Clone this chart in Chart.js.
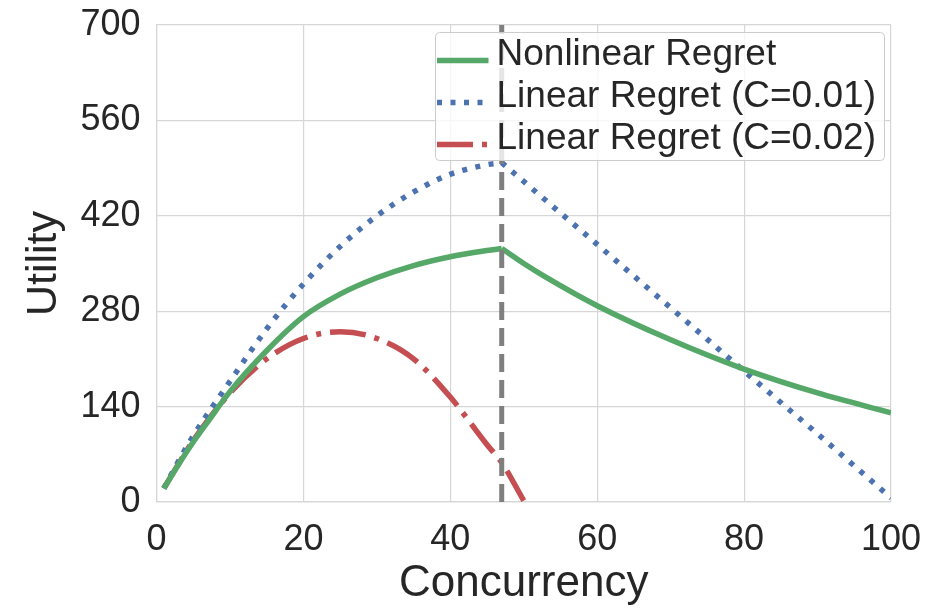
<!DOCTYPE html>
<html>
<head>
<meta charset="utf-8">
<title>Utility vs Concurrency</title>
<script src="https://cdn.jsdelivr.net/npm/chart.js@4.4.0/dist/chart.umd.min.js"></script>
<style>
  html, body { margin: 0; padding: 0; background: #fff; }
  #wrap { width: 943px; height: 608px; }
</style>
</head>
<body>
<div id="wrap"><canvas id="utilityChart" width="943" height="608"></canvas></div>
<script>
/* ---------- data ---------- */
const peakConcurrency = 47;

// nonlinear regret: rising part up to the peak, then the decay
const nonlinearUpX = [1, 3, 5, 7, 10, 15, 20, 25, 30, 35, 40, 45, 47];
const nonlinearUpY = [20, 55, 88, 118, 162, 222, 272, 305, 329, 347, 360, 369, 372];
const nonlinearDownX = [47, 50, 53, 60, 70, 80, 90, 100];
const nonlinearDownY = [372, 350, 330, 288, 238, 195, 160, 131];

// linear regret, C = 0.01
const linear01UpX = [1, 3, 5, 10, 15, 20, 25, 30, 35, 40, 45, 47];
const linear01UpY = [20, 60, 97, 177, 254, 320, 375, 420, 455, 481, 495, 498];
const linear01DownX = [47, 60, 70, 80, 90, 100];
const linear01DownY = [498, 378, 285, 192, 100, 6];

// linear regret, C = 0.02
const linear02X = [1, 3, 5, 10, 15, 20, 25, 30, 35, 40, 45, 47, 50];
const linear02Y = [20, 56, 90, 160, 210, 240, 250, 240, 210, 154, 84, 58, 2];

const xTicks = [0, 20, 40, 60, 80, 100];
const yTicks = [0, 140, 280, 420, 560, 700];
const seriesLabels = ["Nonlinear Regret", "Linear Regret (C=0.01)", "Linear Regret (C=0.02)"];

/* ---------- styles ---------- */
const GREEN = "#55a868";
const BLUE = "#4c72b0";
const RED = "#c44e52";
const GREY = "#7f7f7f";
const TEXT = "#262626";
const GRID = "#d6d6d6";
const FONT = "'Liberation Sans', Arial, sans-serif";

const styles = [
    { color: GREEN, dash: [] },
    { color: BLUE, dash: [5, 8.5] },
    { color: RED, dash: [36, 9, 5, 9] }
];

const toPoints = (xs, ys) => xs.map((x, i) => ({ x: x, y: ys[i] }));

function curve(xs, ys, style, smooth) {
    return {
        data: toPoints(xs, ys),
        borderColor: style.color,
        borderWidth: 5.5,
        borderDash: style.dash,
        borderCapStyle: "butt",
        pointRadius: 0,
        fill: false,
        tension: smooth ? 0.4 : 0,
        cubicInterpolationMode: smooth ? "monotone" : "default"
    };
}

// fixed axis sizes, no extra room for overhanging labels
function fixSize(prop, size) {
    return s => {
        s[prop] = size;
        s.paddingTop = 0;
        s.paddingBottom = 0;
        s.paddingLeft = 0;
        s.paddingRight = 0;
    };
}

/* ---------- legend drawn inside the plot ---------- */
const insideLegend = {
    id: "insideLegend",
    afterDraw(chart) {
        const ctx = chart.ctx;
        const area = chart.chartArea;
        const boxRight = area.right - 6.5;
        const boxTop = area.top + 7.5;
        const boxLeft = 435.5;

        ctx.save();
        ctx.beginPath();
        ctx.roundRect(boxLeft, boxTop, boxRight - boxLeft, 128, 4);
        ctx.fillStyle = "rgba(255,255,255,0.8)";
        ctx.fill();
        ctx.lineWidth = 1;
        ctx.strokeStyle = "#cccccc";
        ctx.stroke();

        ctx.font = "37px " + FONT;
        ctx.textBaseline = "alphabetic";
        styles.forEach((st, i) => {
            const y = boxTop + 28 + i * 42;
            ctx.beginPath();
            ctx.setLineDash(st.dash);
            ctx.lineCap = "butt";
            ctx.lineWidth = 5.5;
            ctx.strokeStyle = st.color;
            ctx.moveTo(boxLeft + 1.5, y);
            ctx.lineTo(boxLeft + 53, y);
            ctx.stroke();
            ctx.setLineDash([]);
            ctx.fillStyle = TEXT;
            ctx.fillText(seriesLabels[i], boxLeft + 61, y + 4.5);
        });
        ctx.restore();
    }
};

/* ---------- chart ---------- */
const datasets = [
    {
        // optimum concurrency marker
        data: [{ x: peakConcurrency, y: yTicks[0] }, { x: peakConcurrency, y: yTicks[yTicks.length - 1] }],
        borderColor: GREY,
        borderWidth: 5,
        borderDash: [18, 8],
        pointRadius: 0,
        fill: false
    },
    curve(nonlinearUpX, nonlinearUpY, styles[0], true),
    curve(nonlinearDownX, nonlinearDownY, styles[0], true),
    curve(linear01UpX, linear01UpY, styles[1], true),
    curve(linear01DownX, linear01DownY, styles[1], false),
    curve(linear02X, linear02Y, styles[2], true)
];

new Chart(document.getElementById("utilityChart"), {
    type: "line",
    data: { datasets },
    options: {
        responsive: false,
        animation: false,
        events: [],
        layout: { padding: { left: 0, right: 52, top: 25, bottom: 0 } },
        plugins: {
            legend: { display: false },
            tooltip: { enabled: false }
        },
        scales: {
            x: {
                type: "linear",
                min: 0,
                max: 100,
                afterBuildTicks: s => { s.ticks = xTicks.map(v => ({ value: v })); },
                afterFit: fixSize("height", 106),
                grid: { color: GRID, lineWidth: 1.2, drawTicks: false },
                border: { color: GRID, width: 1.2 },
                ticks: {
                    padding: 16,
                    color: TEXT,
                    font: { family: FONT, size: 36 },
                    maxRotation: 0
                },
                title: {
                    display: true,
                    text: "Concurrency",
                    color: TEXT,
                    font: { family: FONT, size: 44, lineHeight: 1 },
                    padding: { top: 0, bottom: 2 }
                }
            },
            y: {
                type: "linear",
                min: 0,
                max: 700,
                afterBuildTicks: s => { s.ticks = yTicks.map(v => ({ value: v })); },
                afterFit: fixSize("width", 156.5),
                grid: { color: GRID, lineWidth: 1.2, drawTicks: false },
                border: { color: GRID, width: 1.2 },
                ticks: {
                    padding: 16,
                    color: TEXT,
                    font: { family: FONT, size: 36 }
                },
                title: {
                    display: true,
                    text: "Utility",
                    color: TEXT,
                    font: { family: FONT, size: 43, lineHeight: 1 },
                    padding: { top: 23, bottom: 0 }
                }
            }
        }
    },
    plugins: [insideLegend]
});
</script>
</body>
</html>
